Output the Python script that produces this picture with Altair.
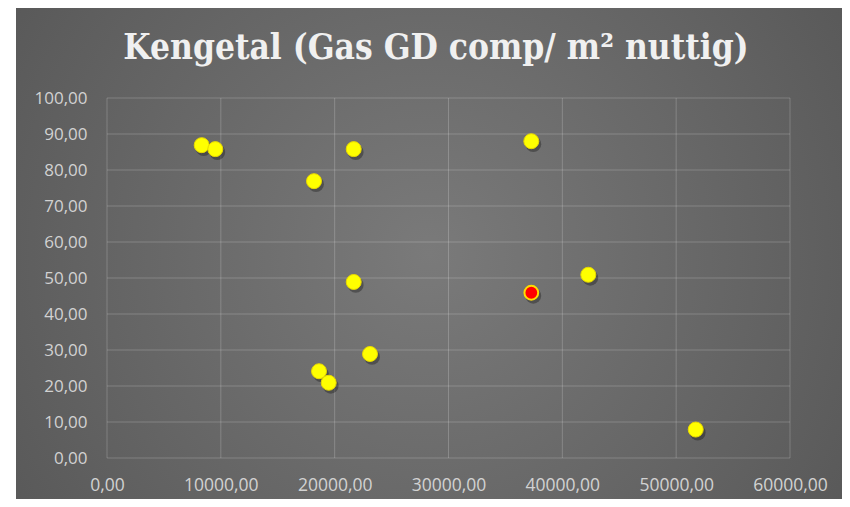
import altair as alt
import pandas as pd

# Data
x_vals = [8319, 9514, 21673, 18185, 37275, 21673, 42283, 37275, 23105, 18625, 19477, 51718]
y_vals = [86.9, 85.8, 85.8, 76.9, 88.0, 48.9, 50.9, 45.9, 28.9, 24.1, 20.9, 7.9]
kind = ["normal", "normal", "normal", "normal", "normal", "normal", "normal",
        "highlight", "normal", "normal", "normal", "normal"]

x_ticks = [0, 10000, 20000, 30000, 40000, 50000, 60000]
y_ticks = [0, 10, 20, 30, 40, 50, 60, 70, 80, 90, 100]

title_text = "Kengetal (Gas GD comp/ m² nuttig)"

pts = pd.DataFrame({"x": x_vals, "y": y_vals, "kind": kind})
xgrid = pd.DataFrame({"t": x_ticks})
ygrid = pd.DataFrame({"t": y_ticks})

W, H = 826, 491

xscale = alt.Scale(domain=[0, 60000], range=[91, 774], nice=False, zero=False)
yscale = alt.Scale(domain=[0, 100], range=[450, 90], nice=False, zero=False)

label_expr = "replace(format(datum.value, '.2f'), '.', ',')"

xaxis = alt.Axis(values=x_ticks, labelExpr=label_expr, offset=-41, grid=False,
                 domain=False, ticks=False, labelPadding=18, title=None, zindex=1,
                 labelFlush=False, labelOverlap=False,
                 labelFont="Open Sans", labelFontSize=17.5, labelColor="#d2d2d2")
yaxis = alt.Axis(values=y_ticks, labelExpr=label_expr, offset=-91, grid=False,
                 domain=False, ticks=False, labelPadding=20, title=None, zindex=1,
                 labelFlush=False, labelOverlap=False,
                 labelFont="Open Sans", labelFontSize=17, labelColor="#d2d2d2")

bg_gradient = alt.RadialGradient(
    gradient="radial", x1=0.5, y1=0.5, r1=0, x2=0.5, y2=0.5, r2=0.75,
    stops=[alt.GradientStop(offset=0, color="#7a7a7a"),
           alt.GradientStop(offset=1, color="#505050")],
)

background = alt.Chart(alt.Data(values=[{"a": 1}])).mark_rect(
    fill=bg_gradient, strokeWidth=0).encode(
    x=alt.value(0), x2=alt.value(W), y=alt.value(0), y2=alt.value(H),
)

grid_style = dict(color="#ffffff", opacity=0.2, strokeWidth=1)

vgrid = alt.Chart(xgrid).mark_rule(**grid_style).encode(
    x=alt.X("t:Q", scale=xscale, axis=xaxis),
    y=alt.Y(datum=0, type="quantitative", scale=yscale, axis=yaxis),
    y2=alt.Y2(datum=100),
)
hgrid = alt.Chart(ygrid).mark_rule(**grid_style).encode(
    y=alt.Y("t:Q", scale=yscale, axis=yaxis),
    x=alt.X(datum=0, type="quantitative", scale=xscale, axis=xaxis),
    x2=alt.X2(datum=60000),
)

shadow = alt.Chart(pts).mark_circle(color="#000000", opacity=0.3, size=250,
                                    xOffset=2, yOffset=3).encode(
    x=alt.X("x:Q", scale=xscale, axis=xaxis),
    y=alt.Y("y:Q", scale=yscale, axis=yaxis),
)
yellow = alt.Chart(pts).transform_filter(alt.datum.kind == "normal").mark_circle(
    color="#ffff00", opacity=1, size=225, stroke="#e8d800", strokeWidth=1).encode(
    x=alt.X("x:Q", scale=xscale, axis=xaxis),
    y=alt.Y("y:Q", scale=yscale, axis=yaxis),
)
red = alt.Chart(pts).transform_filter(alt.datum.kind == "highlight").mark_point(
    shape="circle", filled=True, fill="#ff0000", stroke="#ffdd00", strokeWidth=2,
    size=190, opacity=1).encode(
    x=alt.X("x:Q", scale=xscale, axis=xaxis),
    y=alt.Y("y:Q", scale=yscale, axis=yaxis),
)

chart = alt.layer(background, vgrid, hgrid, shadow, yellow, red).properties(
    width=W,
    height=H,
    autosize=alt.AutoSizeParams(type="none"),
    padding={"left": 8, "top": 0, "right": 0, "bottom": 0},
    title=alt.TitleParams(
        title_text, font="DejaVu Serif Condensed", fontSize=35, fontWeight="bold",
        color="#f0f0f0", anchor="middle", frame="group", offset=-86,
        baseline="alphabetic", dx=7,
    ),
).configure_view(strokeWidth=0).configure(background="#ffffff")

chart.save("out.html", embed_options={"renderer": "svg", "actions": False})
